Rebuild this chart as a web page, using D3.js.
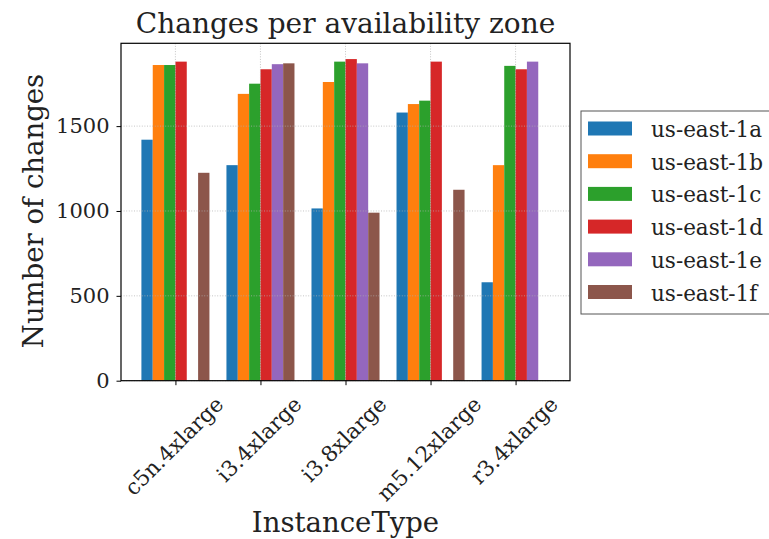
<!DOCTYPE html>
<html><head><meta charset="utf-8">
<script src="https://cdn.jsdelivr.net/npm/d3@7"></script>
<style>body{margin:0;background:#fff}svg{display:block}text{font-family:"DejaVu Serif",serif;fill:#222}</style>
</head><body><svg id="c" width="769" height="539"></svg>
<script>
const categories = ["c5n.4xlarge","i3.4xlarge","i3.8xlarge","m5.12xlarge","r3.4xlarge"];
const zones = ["us-east-1a","us-east-1b","us-east-1c","us-east-1d","us-east-1e","us-east-1f"];
const colors = ["#1f77b4","#ff7f0e","#2ca02c","#d62728","#9467bd","#8c564b"];
const east1a = [1420,1270,1015,1580,580];
const east1b = [1860,1690,1760,1630,1270];
const east1c = [1860,1750,1880,1650,1855];
const east1d = [1880,1835,1895,1880,1835];
const east1e = [0,1865,1870,0,1880];
const east1f = [1225,1870,990,1125,0];
const series = [east1a,east1b,east1c,east1d,east1e,east1f];
const yTicks = [0,500,1000,1500];

const svg = d3.select("#c");
const L=121,R=570,T=43.3,B=380.7;
const x = d3.scaleLinear().domain([-0.64,4.64]).range([L,R]);
const y = d3.scaleLinear().domain([0,1988]).range([B,T]);
const bw = 0.8/zones.length;

// bars
series.forEach((vals,si)=>{
  svg.append("g").selectAll("rect").data(vals).join("rect")
    .attr("x",(d,i)=>x(i-0.4+si*bw))
    .attr("width",(d,i)=>x(i-0.4+(si+1)*bw)-x(i-0.4+si*bw))
    .attr("y",d=>y(d)).attr("height",d=>y(0)-y(d))
    .attr("fill",colors[si]);
});

// grid
const g = svg.append("g");
g.selectAll("line.h").data(yTicks).join("line")
  .attr("x1",L).attr("x2",R).attr("y1",d=>y(d)).attr("y2",d=>y(d))
  .attr("stroke","#b0b0b0").attr("stroke-opacity",0.8).attr("stroke-dasharray","1,1.6").attr("stroke-width",0.9);
g.selectAll("line.v").data(categories).join("line")
  .attr("x1",(d,i)=>x(i)).attr("x2",(d,i)=>x(i)).attr("y1",T).attr("y2",B)
  .attr("stroke","#b0b0b0").attr("stroke-opacity",0.8).attr("stroke-dasharray","1,1.6").attr("stroke-width",0.9);

// axes
const yAxis = d3.axisLeft(y).tickValues(yTicks).tickFormat(d3.format("d")).tickSize(4.5).tickPadding(7);
const ya = svg.append("g").attr("transform",`translate(${L},0)`).call(yAxis);
ya.select(".domain").remove();
ya.selectAll("text").style("font-family","DejaVu Serif").style("font-size","21px").attr("fill","#222");
ya.selectAll("line").attr("stroke","#000");

const xa = svg.append("g").attr("transform",`translate(0,${B})`)
  .call(d3.axisBottom(x).tickValues(d3.range(categories.length)).tickFormat(i=>categories[i]).tickSize(4.5));
xa.select(".domain").remove();
xa.selectAll("line").attr("stroke","#000");
xa.selectAll("text").style("font-family","DejaVu Serif").style("font-size","21.5px").attr("fill","#222")
  .attr("dy",null).attr("y",0)
  .each(function(){
    const t=d3.select(this);
    const len=this.getComputedTextLength();
    const h=16;
    const cy = 14 + (len+h)*Math.SQRT1_2/2;
    t.attr("text-anchor","middle").attr("dominant-baseline","central")
     .attr("transform",`translate(-2,${cy}) rotate(-45)`);
  });

// frame
svg.append("rect").attr("x",L).attr("y",T).attr("width",R-L).attr("height",B-T)
  .attr("fill","none").attr("stroke","#000").attr("stroke-width",1.2);

// titles
svg.append("text").attr("x",(L+R)/2).attr("y",33).attr("text-anchor","middle")
  .style("font-size","28px").text("Changes per availability zone");
svg.append("text").attr("transform",`translate(43,211) rotate(-90)`).attr("text-anchor","middle")
  .style("font-size","27.5px").text("Number of changes");
svg.append("text").attr("x",(L+R)/2).attr("y",532).attr("text-anchor","middle")
  .style("font-size","27.5px").text("InstanceType");

// legend
const lg = svg.append("g");
lg.append("rect").attr("x",581).attr("y",111).attr("width",200).attr("height",203)
  .attr("fill","#fff").attr("stroke","#555").attr("stroke-width",1);
zones.forEach((z,i)=>{
  const cy=128.5+i*32.7;
  lg.append("rect").attr("x",588).attr("y",cy-7).attr("width",44).attr("height",14).attr("fill",colors[i]);
  lg.append("text").attr("x",651).attr("y",cy+1).attr("dominant-baseline","central").style("font-size","21.5px").text(z);
});
</script></body></html>
